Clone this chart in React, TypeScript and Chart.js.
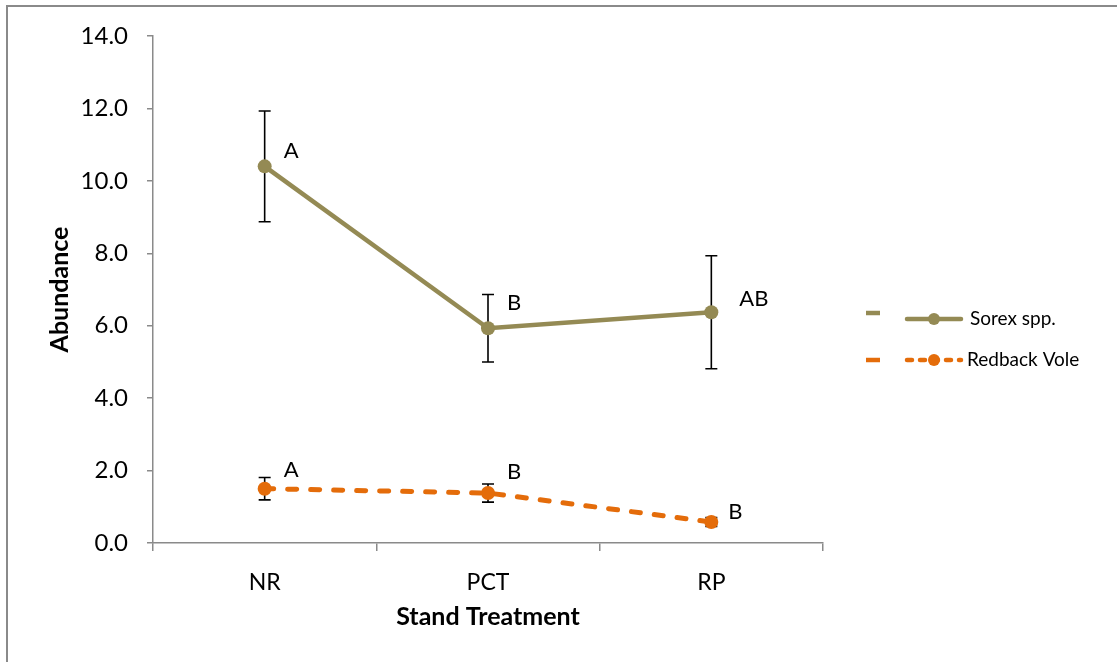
import React, { useEffect, useRef } from 'react';
import { Chart, registerables } from 'chart.js';
Chart.register(...registerables);

const categories = ['NR', 'PCT', 'RP'];
const sorexValues = [10.4, 5.93, 6.37];
const sorexErrors = [1.53, 0.93, 1.56];
const sorexLetters = ['A', 'B', 'AB'];
const voleValues = [1.5, 1.38, 0.58];
const voleErrors = [0.31, 0.25, 0.12];
const voleLetters = ['A', 'B', 'B'];
const seriesNames = ['Sorex spp.', 'Redback Vole'];
const yMin = 0;
const yMax = 14;
const yStep = 2;

const SOREX = '#948A54';
const VOLE = '#E46C0A';
const FONT = 'Lato, "Open Sans", sans-serif';

// label offsets (px) relative to each point
const sorexLetterOffsets = [[19, -15], [19, -25], [28, -13]];
const voleLetterOffsets = [[19, -19], [19, -21], [17, -10]];

const frame = {
  id: 'frame',
  beforeDraw(chart: any) {
    const { ctx, width, height } = chart;
    ctx.save();
    ctx.fillStyle = '#fff';
    ctx.fillRect(0, 0, width, height);
    ctx.strokeStyle = '#8a8a8a';
    ctx.lineWidth = 2;
    ctx.beginPath();
    ctx.moveTo(7, height);
    ctx.lineTo(7, 6);
    ctx.lineTo(width, 6);
    ctx.stroke();
    ctx.restore();
  },
};

const errorBars = {
  id: 'errorBars',
  beforeDatasetsDraw(chart: any) {
    const { ctx } = chart;
    const xs = chart.scales.x;
    const ys = chart.scales.y;
    const sets = [
      [sorexValues, sorexErrors],
      [voleValues, voleErrors],
    ];
    ctx.save();
    ctx.strokeStyle = '#000';
    ctx.lineWidth = 1.6;
    sets.forEach(([vals, errs]) => {
      vals.forEach((v: number, i: number) => {
        const x = xs.getPixelForValue(i);
        const yt = ys.getPixelForValue(v + errs[i]);
        const yb = ys.getPixelForValue(v - errs[i]);
        ctx.beginPath();
        ctx.moveTo(x, yt);
        ctx.lineTo(x, yb);
        ctx.moveTo(x - 6, yt);
        ctx.lineTo(x + 6, yt);
        ctx.moveTo(x - 6, yb);
        ctx.lineTo(x + 6, yb);
        ctx.stroke();
      });
    });
    ctx.restore();
  },
  afterDatasetsDraw(chart: any) {
    const { ctx } = chart;
    const xs = chart.scales.x;
    const ys = chart.scales.y;
    ctx.save();
    ctx.fillStyle = '#000';
    ctx.font = `22px ${FONT}`;
    ctx.textAlign = 'left';
    ctx.textBaseline = 'middle';
    const sets: [number[], string[], number[][]][] = [
      [sorexValues, sorexLetters, sorexLetterOffsets],
      [voleValues, voleLetters, voleLetterOffsets],
    ];
    sets.forEach(([vals, letters, offs]) => {
      vals.forEach((v, i) => {
        const x = xs.getPixelForValue(i);
        const y = ys.getPixelForValue(v);
        ctx.fillText(letters[i], x + offs[i][0], y + offs[i][1]);
      });
    });

    // legend
    const rows = [
      { name: seriesNames[0], color: SOREX, dash: [] as number[] },
      { name: seriesNames[1], color: VOLE, dash: [5, 8] },
    ];
    const ly = [319, 360];
    rows.forEach((r, k) => {
      const y = ly[k];
      ctx.strokeStyle = r.color;
      ctx.fillStyle = r.color;
      ctx.lineCap = 'butt';
      ctx.lineWidth = 4.5;
      ctx.setLineDash([]);
      ctx.beginPath();
      ctx.moveTo(866, k === 0 ? y - 6 : y);
      ctx.lineTo(880, k === 0 ? y - 6 : y);
      ctx.stroke();
      ctx.lineCap = 'round';
      ctx.setLineDash(r.dash);
      ctx.beginPath();
      ctx.moveTo(907, y);
      ctx.lineTo(961, y);
      ctx.stroke();
      ctx.setLineDash([]);
      ctx.beginPath();
      ctx.arc(934, y, 6, 0, Math.PI * 2);
      ctx.fill();
      ctx.fillStyle = '#000';
      ctx.font = `19px ${FONT}`;
      ctx.textBaseline = 'middle';
      ctx.fillText(r.name, k === 0 ? 970 : 967, y);
    });
    ctx.restore();
  },
};

export default function App() {
  const ref = useRef<HTMLCanvasElement>(null);
  useEffect(() => {
    if (!ref.current) return;
    const chart = new Chart(ref.current, {
      type: 'line',
      data: {
        labels: categories,
        datasets: [
          {
            label: seriesNames[0],
            data: sorexValues,
            borderColor: SOREX,
            backgroundColor: SOREX,
            borderWidth: 4.5,
            pointRadius: 7,
            pointHoverRadius: 7,
            pointBorderWidth: 0,
            tension: 0,
          },
          {
            label: seriesNames[1],
            data: voleValues,
            borderColor: VOLE,
            backgroundColor: VOLE,
            borderWidth: 5,
            borderDash: [9, 14],
            borderCapStyle: 'round',
            pointRadius: 7,
            pointHoverRadius: 7,
            pointBorderWidth: 0,
            tension: 0,
          },
        ],
      },
      options: {
        animation: false,
        responsive: false,
        layout: { padding: { left: 45, top: 36, right: 294, bottom: 30 } },
        plugins: { legend: { display: false }, tooltip: { enabled: false } },
        scales: {
          x: {
            offset: true,
            grid: { offset: true, drawOnChartArea: false, drawTicks: true, tickLength: 8, color: '#8a8a8a', lineWidth: 1.5 },
            border: { color: '#8a8a8a', width: 1.5 },
            ticks: { color: '#000', font: { family: FONT, size: 23 }, padding: 18 },
            title: { display: true, text: 'Stand Treatment', color: '#000', font: { family: FONT, size: 25, weight: 'bold' }, padding: { top: 0, bottom: 0 } },
            afterFit: (s: any) => { s.height = 89; },
          },
          y: {
            min: yMin,
            max: yMax,
            grid: { drawOnChartArea: false, drawTicks: true, tickLength: 6, color: '#8a8a8a', lineWidth: 1.5 },
            border: { color: '#8a8a8a', width: 1.5 },
            ticks: { stepSize: yStep, color: '#000', font: { family: FONT, size: 24 }, padding: 19, callback: (v: any) => Number(v).toFixed(1) },
            title: { display: true, text: 'Abundance', color: '#000', font: { family: FONT, size: 25, weight: 'bold' }, padding: { top: 0, bottom: 0 } },
            afterFit: (s: any) => { s.width = 108; },
          },
        },
      },
      plugins: [frame, errorBars],
    });
    return () => chart.destroy();
  }, []);
  return (
    <div style={{ position: 'fixed', left: 0, top: 0, width: 1117, height: 662, background: '#fff' }}>
      <canvas ref={ref} width={1117} height={662} style={{ display: 'block' }} />
    </div>
  );
}
